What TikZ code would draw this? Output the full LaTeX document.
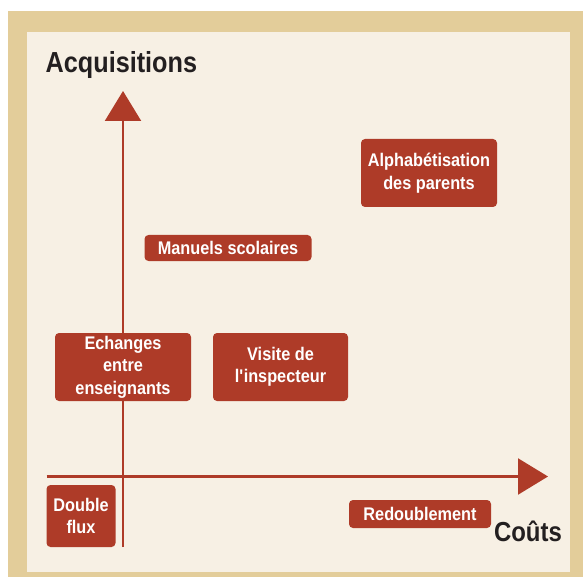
\documentclass[tikz,border=0pt]{standalone}
\usepackage{fontspec}
\setmainfont{Liberation Sans}[FakeStretch=0.89]
\newfontfamily\titlefont{Liberation Sans}[FakeStretch=0.87]
\usetikzlibrary{arrows.meta}
\definecolor{frametan}{HTML}{E3CD9A}
\definecolor{cream}{HTML}{F7F0E4}
\definecolor{boxred}{HTML}{AE3B28}
\definecolor{inkdark}{HTML}{231F20}
\begin{document}
\begin{tikzpicture}[x=1pt,y=-1pt,
  box/.style={fill=boxred, rounded corners=4pt, text=white,
    font=\bfseries\fontsize{18.3}{22.5}\selectfont, align=center, inner sep=0pt},
  axis/.style={draw=boxred, line width=2.2pt, -{Triangle[length=30pt,width=36pt]}},
  title/.style={font=\titlefont\bfseries, text=inkdark, inner sep=0pt}]
\useasboundingbox (0,0) rectangle (583,577);
\fill[frametan] (8,11) rectangle (583,577);
\fill[cream] (27,32) rectangle (570,572);
% axes
\coordinate (xstart) at (46.6,476.5);
\coordinate (xend) at (548,476.5);
\coordinate (ystart) at (123,547);
\coordinate (yend) at (123,91);
\draw[axis] (xstart) -- (xend);
\draw[axis] (ystart) -- (yend);
% titles
\node[title, font=\titlefont\bfseries\fontsize{29}{29}\selectfont, anchor=base west] (acq) at (45.5,72.3) {Acquisitions};
\node[title, font=\titlefont\bfseries\fontsize{27.5}{27.5}\selectfont, anchor=base east] (couts) at (562,541.7) {Coûts};
% boxes
\node[box, minimum width=69pt, minimum height=62pt] (flux) at (81,516) {Double\\flux};
\node[box, minimum width=142pt, minimum height=28pt] (redoub) at (420,514) {Redoublement};
\node[box, minimum width=136pt, minimum height=68pt] (echanges) at (123,367) {Echanges\\entre\\enseignants};
\node[box, minimum width=135pt, minimum height=68pt] (visite) at (280.5,367) {Visite de\\l\textquotesingle inspecteur};
\node[box, minimum width=136pt, minimum height=68pt] (alpha) at (429,173) {Alphabétisation\\des parents};
\node[box, minimum width=167pt, minimum height=26pt] (manuels) at (228,248) {Manuels scolaires};
\end{tikzpicture}
\end{document}
